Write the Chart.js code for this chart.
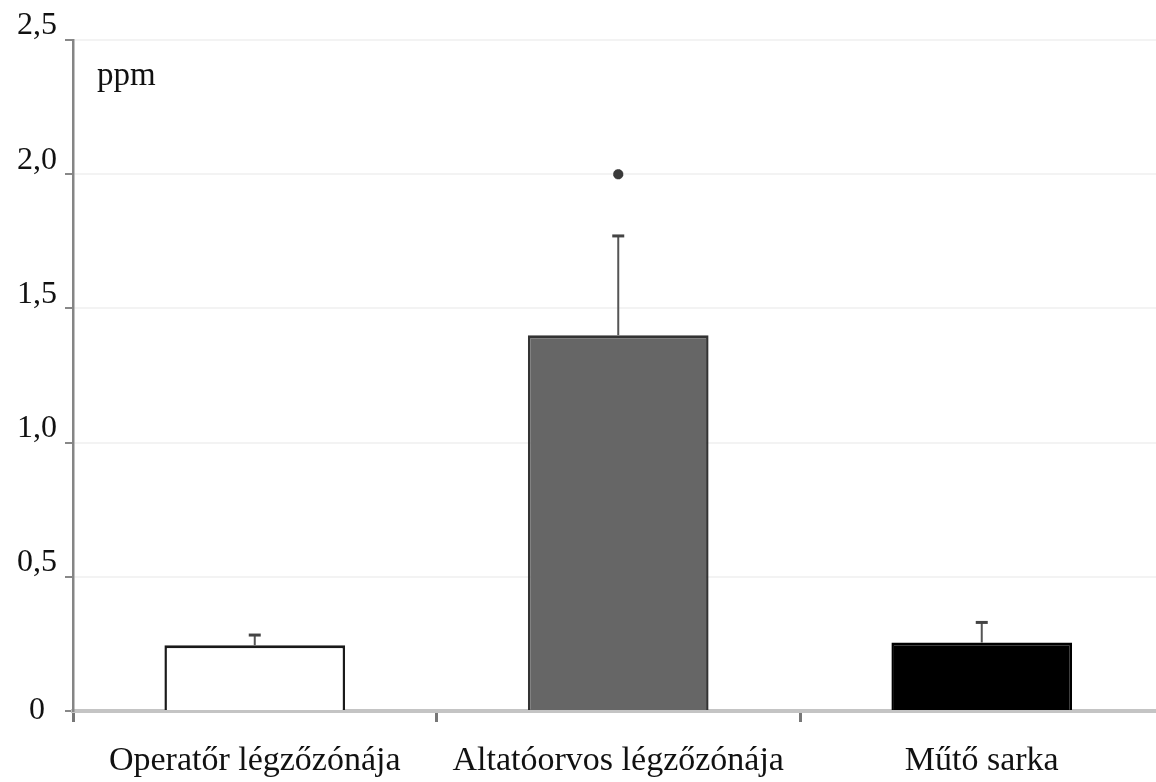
<!DOCTYPE html>
<html>
<head>
<meta charset="utf-8">
<script src="https://cdn.jsdelivr.net/npm/chart.js@4/dist/chart.umd.min.js"></script>
<style>
  html, body { margin: 0; padding: 0; background: #ffffff; overflow: hidden; }
  #wrap { width: 1156px; height: 782px; overflow: hidden; }
  canvas { display: block; }
</style>
</head>
<body>
<div id="wrap"><canvas id="c" width="1172" height="782"></canvas></div>
<script>
// Measurement sites
const categories = ['Operatőr légzőzónája', 'Altatóorvos légzőzónája', 'Műtő sarka'];
// Mean concentration (ppm)
const means = [0.245, 1.40, 0.255];
// Standard deviation drawn as upper error bar
const sds = [0.038, 0.37, 0.075];
// Significance marker level
const marks = [null, 2.0, null];
// Y-axis tick labels (Hungarian decimal comma)
const yTickLabels = ['0', '0,5', '1,0', '1,5', '2,0', '2,5'];
const barFills = ['#ffffff', '#666666', '#000000'];
const barEdges = ['#1a1a1a', '#333333', '#000000'];

const serif = '"Liberation Serif", "Times New Roman", serif';

const errorBars = {
  id: 'errorBars',
  afterDatasetsDraw(chart) {
    const { ctx, scales: { y } } = chart;
    const meta = chart.getDatasetMeta(0);
    ctx.save();
    meta.data.forEach((bar, i) => {
      const top = y.getPixelForValue(means[i] + sds[i]);
      ctx.strokeStyle = '#555555';
      ctx.lineWidth = 2;
      ctx.beginPath();
      ctx.moveTo(bar.x, bar.y);
      ctx.lineTo(bar.x, top);
      ctx.stroke();
      ctx.strokeStyle = '#444444';
      ctx.lineWidth = 3;
      ctx.beginPath();
      ctx.moveTo(bar.x - 6, top);
      ctx.lineTo(bar.x + 6, top);
      ctx.stroke();
    });
    ctx.restore();
  }
};

const unitLabel = {
  id: 'unitLabel',
  afterDraw(chart) {
    const { ctx, chartArea } = chart;
    ctx.save();
    ctx.fillStyle = '#111111';
    ctx.font = '33px ' + serif;
    ctx.textAlign = 'left';
    ctx.textBaseline = 'alphabetic';
    ctx.fillText('ppm', chartArea.left + 24, chartArea.top + 45);
    ctx.restore();
  }
};

new Chart(document.getElementById('c'), {
  type: 'bar',
  data: {
    labels: categories,
    datasets: [
      {
        type: 'bar',
        data: means,
        backgroundColor: barFills,
        borderColor: barEdges,
        borderWidth: { top: 3, left: 2.5, right: 2.5, bottom: 0 },
        borderSkipped: false,
        categoryPercentage: 1.0,
        barPercentage: 0.497,
        order: 2
      },
      {
        type: 'line',
        data: marks,
        showLine: false,
        pointStyle: 'star',
        pointRadius: 5,
        borderWidth: 3.5,
        borderColor: '#3a3a3a',
        backgroundColor: '#3a3a3a',
        order: 1
      }
    ]
  },
  options: {
    responsive: false,
    animation: false,
    layout: { padding: { top: 40, right: 0, left: 0, bottom: 0 } },
    plugins: {
      legend: { display: false },
      tooltip: { enabled: false }
    },
    scales: {
      x: {
        afterFit(scale) { scale.height = 71; },
        grid: {
          drawOnChartArea: false,
          drawTicks: true,
          tickLength: 11,
          tickWidth: 3,
          tickColor: '#777777',
          offset: true
        },
        border: { color: '#c4c4c4', width: 4 },
        ticks: {
          color: '#111111',
          font: { family: serif, size: 34 },
          padding: 19,
          maxRotation: 0,
          autoSkip: false
        }
      },
      y: {
        min: 0,
        max: 2.5,
        afterFit(scale) { scale.width = 73; },
        afterBuildTicks(scale) {
          scale.ticks = yTickLabels.map((_, i) => ({ value: i * 0.5 }));
        },
        grid: {
          color: '#f3f3f3',
          lineWidth: 2,
          tickColor: '#888888',
          tickLength: 8,
          tickWidth: 2
        },
        border: { color: '#858585', width: 2.5 },
        ticks: {
          color: '#111111',
          font: { family: serif, size: 32, lineHeight: '28px' },
          padding: 8,
          crossAlign: 'center',
          callback: (v, i) => i === 0 ? yTickLabels[i] : [yTickLabels[i], '']
        }
      }
    }
  },
  plugins: [errorBars, unitLabel]
});
</script>
</body>
</html>
